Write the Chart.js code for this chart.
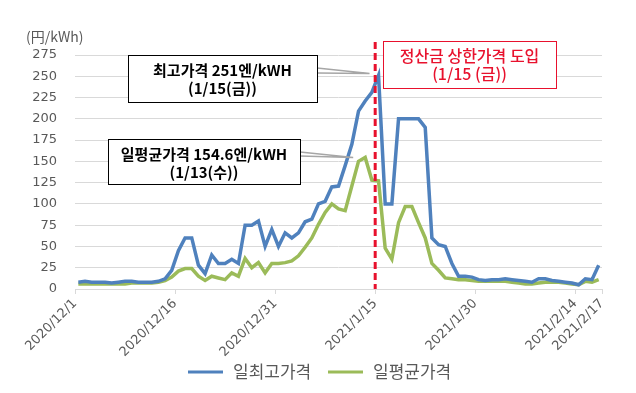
<!DOCTYPE html>
<html>
<head>
<meta charset="utf-8">
<script src="https://cdn.jsdelivr.net/npm/chart.js@4.4.1/dist/chart.umd.min.js"></script>
<style>
  html, body { margin: 0; padding: 0; background: #fff; }
  #wrap { width: 636px; height: 393px; }
</style>
</head>
<body>
<div id="wrap"><canvas id="priceChart" width="636" height="393"></canvas></div>
<script>
// dates 2020/12/1 .. 2021/2/17 (one per day)
const dates = [];
for (let d = new Date(2020, 11, 1); d <= new Date(2021, 1, 17); d.setDate(d.getDate() + 1)) {
    dates.push(d.getFullYear() + '/' + (d.getMonth() + 1) + '/' + d.getDate());
}

const maxPrice = [
    8, 9, 8, 8, 8, 7, 8, 9, 9, 8,
    8, 8, 9, 12, 22, 45, 60, 60, 28, 18,
    40, 30, 30, 35, 30, 75, 75, 80, 50, 70,
    50, 66, 60, 66, 79, 82, 100, 103, 120, 121,
    145, 170, 209, 221, 231, 251, 100, 100, 200, 200,
    200, 200, 190, 60, 52, 50, 30, 15, 15, 14,
    11, 10, 11, 11, 12, 11, 10, 9, 8, 12,
    12, 10, 9, 8, 7, 5, 12, 11, 28
];

const avgPrice = [
    6, 6, 6, 6, 6, 6, 6, 6, 7, 7,
    7, 7, 8, 10, 14, 21, 24, 24, 15, 10,
    15, 13, 11, 19, 15, 36, 25, 31, 19, 30,
    30, 31, 33, 39, 49, 60, 76, 90, 100, 94,
    92, 121, 150, 154.6, 128, 127, 48, 35, 78, 97,
    97, 78, 60, 30, 22, 13, 12, 11, 11, 10,
    9, 9, 9, 9, 9, 8, 7, 6, 6, 7,
    8, 8, 8, 7, 6, 5, 9, 8, 11
];

const seriesNames = ['일최고가격', '일평균가격'];
const seriesColors = ['#4f81bd', '#9bbb59'];
const tickIdx = [-0.5, 14.5, 29.5, 44.5, 59.5, 74.5, 78.5];
const yTicks = [0, 25, 50, 75, 100, 125, 150, 175, 200, 225, 250, 275];
const capDay = 44.5; // 2021/1/15 boundary

const toPoints = arr => arr.map((v, i) => ({ x: i, y: v }));

const overlay = {
    id: 'overlay',
    afterDatasetsDraw(chart) {
        const { ctx, scales: { x, y } } = chart;
        ctx.save();

        // red dashed line
        const rx = x.getPixelForValue(capDay);
        ctx.strokeStyle = '#e8112d';
        ctx.lineWidth = 3;
        ctx.setLineDash([7, 4]);
        ctx.beginPath();
        ctx.moveTo(rx, 42);
        ctx.lineTo(rx, y.getPixelForValue(0));
        ctx.stroke();
        ctx.setLineDash([]);

        // leader lines
        const iMax = maxPrice.indexOf(Math.max(...maxPrice));
        const iAvg = avgPrice.indexOf(Math.max(...avgPrice));
        const leaders = [
            [317, 68, 73, x.getPixelForValue(iMax) - 9, y.getPixelForValue(maxPrice[iMax]) - 2],
            [300, 152, 156, x.getPixelForValue(iAvg) - 12, y.getPixelForValue(avgPrice[iAvg])]
        ];
        ctx.strokeStyle = '#a6a6a6';
        ctx.lineWidth = 1.5;
        leaders.forEach(([sx, sy1, sy2, ex, ey]) => {
            ctx.beginPath();
            ctx.moveTo(sx, sy1);
            ctx.lineTo(ex, ey);
            ctx.lineTo(sx, sy2);
            ctx.stroke();
        });

        // callout boxes
        const boxes = [
            { x: 128, y: 55, w: 189, h: 47, color: '#000', weight: '600', size: 15,
              lines: ['최고가격 251엔/kWH', '(1/15(금))'] },
            { x: 108, y: 139, w: 192, h: 45, color: '#000', weight: '600', size: 15,
              lines: ['일평균가격 154.6엔/kWH', '(1/13(수))'] },
            { x: 383, y: 41, w: 173, h: 47, color: '#e8112d', weight: '500', size: 16,
              lines: ['정산금 상한가격 도입', '(1/15 (금))'] }
        ];
        boxes.forEach(b => {
            ctx.fillStyle = '#fff';
            ctx.fillRect(b.x, b.y, b.w, b.h);
            ctx.strokeStyle = b.color;
            ctx.lineWidth = 1;
            ctx.strokeRect(b.x + 0.5, b.y + 0.5, b.w, b.h);
            ctx.fillStyle = b.color;
            ctx.font = b.weight + ' ' + b.size + 'px "Noto Sans CJK KR", sans-serif';
            ctx.textAlign = 'center';
            ctx.textBaseline = 'middle';
            ctx.fillText(b.lines[0], b.x + b.w / 2, b.y + 15);
            ctx.fillText(b.lines[1], b.x + b.w / 2, b.y + 33);
        });
        ctx.restore();
    },
    afterDraw(chart) {
        const { ctx } = chart;
        ctx.save();
        // unit label
        ctx.fillStyle = '#595959';
        ctx.font = '14px "Noto Sans CJK JP", sans-serif';
        ctx.textAlign = 'left';
        ctx.textBaseline = 'middle';
        ctx.fillText('(円/kWh)', 26, 37);

        // legend
        const legendX = [188, 328];
        ctx.font = '17px "Noto Sans CJK KR", sans-serif';
        seriesNames.forEach((name, i) => {
            ctx.strokeStyle = seriesColors[i];
            ctx.lineWidth = 3;
            ctx.beginPath();
            ctx.moveTo(legendX[i], 372);
            ctx.lineTo(legendX[i] + 35, 372);
            ctx.stroke();
            ctx.fillStyle = '#595959';
            ctx.fillText(name, legendX[i] + 45, 372);
        });
        ctx.restore();
    }
};

new Chart(document.getElementById('priceChart'), {
    type: 'line',
    data: {
        datasets: [
            {
                label: seriesNames[0],
                data: toPoints(maxPrice),
                borderColor: seriesColors[0],
                borderWidth: 3.5,
                pointRadius: 0,
                tension: 0
            },
            {
                label: seriesNames[1],
                data: toPoints(avgPrice),
                borderColor: seriesColors[1],
                borderWidth: 3.5,
                pointRadius: 0,
                tension: 0
            }
        ]
    },
    options: {
        responsive: false,
        animation: false,
        layout: {
            padding: { left: 0, top: 55, right: 34, bottom: 0 }
        },
        plugins: {
            legend: { display: false },
            tooltip: { enabled: false }
        },
        scales: {
            x: {
                type: 'linear',
                min: -0.5,
                max: 78.5,
                afterBuildTicks: scale => {
                    scale.ticks = tickIdx.map(v => ({ value: v }));
                },
                afterFit: scale => {
                    scale.height = 104;
                },
                ticks: {
                    autoSkip: false,
                    maxRotation: 45,
                    minRotation: 45,
                    color: '#595959',
                    font: { family: 'DejaVu Sans', size: 13 },
                    padding: 2,
                    callback: v => dates[Math.min(Math.ceil(v), dates.length - 1)]
                },
                grid: {
                    drawOnChartArea: false,
                    color: '#d9d9d9',
                    tickLength: 5
                },
                border: { color: '#d9d9d9', width: 1 }
            },
            y: {
                min: 0,
                max: 275,
                afterBuildTicks: scale => {
                    scale.ticks = yTicks.map(v => ({ value: v }));
                },
                afterFit: scale => {
                    scale.width = 75;
                },
                ticks: {
                    color: '#595959',
                    font: { family: 'DejaVu Sans', size: 13 },
                    padding: 18
                },
                grid: {
                    color: '#d9d9d9',
                    drawTicks: false
                },
                border: { display: false }
            }
        }
    },
    plugins: [overlay]
});
</script>
</body>
</html>
